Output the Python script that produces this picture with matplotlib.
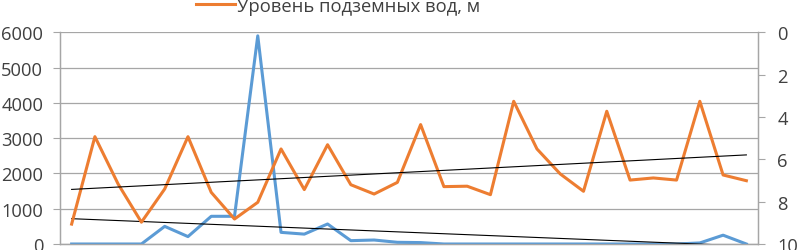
import matplotlib.pyplot as plt
import numpy as np
from matplotlib.lines import Line2D

plt.rcParams['font.family'] = ['Open Sans', 'DejaVu Sans']

# Данные (30 точек)
idx = np.arange(30)
runoff = [0, 0, 0, 0, 500, 210, 785, 785, 5900, 330,
          280, 567, 95, 113, 48, 40, 0, 0, 0, 0,
          0, 0, 0, 0, 0, 0, 0, 30, 250, 0]
level = [9.06, 4.93, 7.17, 8.97, 7.40, 4.93, 7.56, 8.82, 8.03, 5.51,
         7.43, 5.31, 7.20, 7.64, 7.09, 4.36, 7.29, 7.27, 7.67, 3.26,
         5.51, 6.69, 7.51, 3.73, 6.98, 6.88, 6.98, 3.26, 6.74, 7.01]
left_ticks = [0, 1000, 2000, 3000, 4000, 5000, 6000]
right_ticks = [0, 2, 4, 6, 8, 10]
legend_label = 'Уровень подземных вод, м'

blue = '#5B9BD5'
orange = '#ED7D31'
grey = '#A6A6A6'
txt = '#404040'

fig = plt.figure(figsize=(7.98, 2.51), dpi=100)
ax = fig.add_axes([60 / 798, 1 - 245 / 251, 698 / 798, (245 - 33.3) / 251])
ax2 = ax.twinx()

# Левая ось: расход
ax.plot(idx, runoff, color=blue, lw=2.2, zorder=3)
k1 = np.polyfit(idx, runoff, 1)
ax.plot(idx, np.polyval(k1, idx), color='black', lw=0.8, zorder=4)
ax.set_ylim(0, 6000)
ax.set_xlim(-0.5, 29.5)
ax.set_yticks(left_ticks)
ax.yaxis.grid(True, color=grey, lw=0.9)
ax.set_axisbelow(True)
ax.set_xticks([])

# Правая ось: уровень грунтовых вод
ax2.plot(idx, level, color=orange, lw=2.2, zorder=3)
k2 = np.polyfit(idx, level, 1)
ax2.plot(idx, np.polyval(k2, idx), color='black', lw=0.8, zorder=4)
ax2.set_ylim(10, 0)
ax2.set_yticks(right_ticks)

for a in (ax, ax2):
    for s in ('top',):
        a.spines[s].set_visible(False)
    for s in ('left', 'right', 'bottom'):
        a.spines[s].set_color(grey)
        a.spines[s].set_linewidth(0.9)
ax.tick_params(axis='y', length=5, color=grey, pad=7, labelsize=13.2, labelcolor=txt)
ax2.tick_params(axis='y', length=5, color=grey, pad=9, labelsize=13.2, labelcolor=txt)

handle = Line2D([], [], color=orange, lw=2.2)
fig.legend([handle], [legend_label], loc='center left',
           bbox_to_anchor=(196 / 798, 1 - 6.5 / 251), frameon=False,
           fontsize=13.2, labelcolor=txt, handlelength=2.1, handletextpad=0.15,
           borderpad=0, borderaxespad=0)

fig.savefig('out.png', dpi=100)
